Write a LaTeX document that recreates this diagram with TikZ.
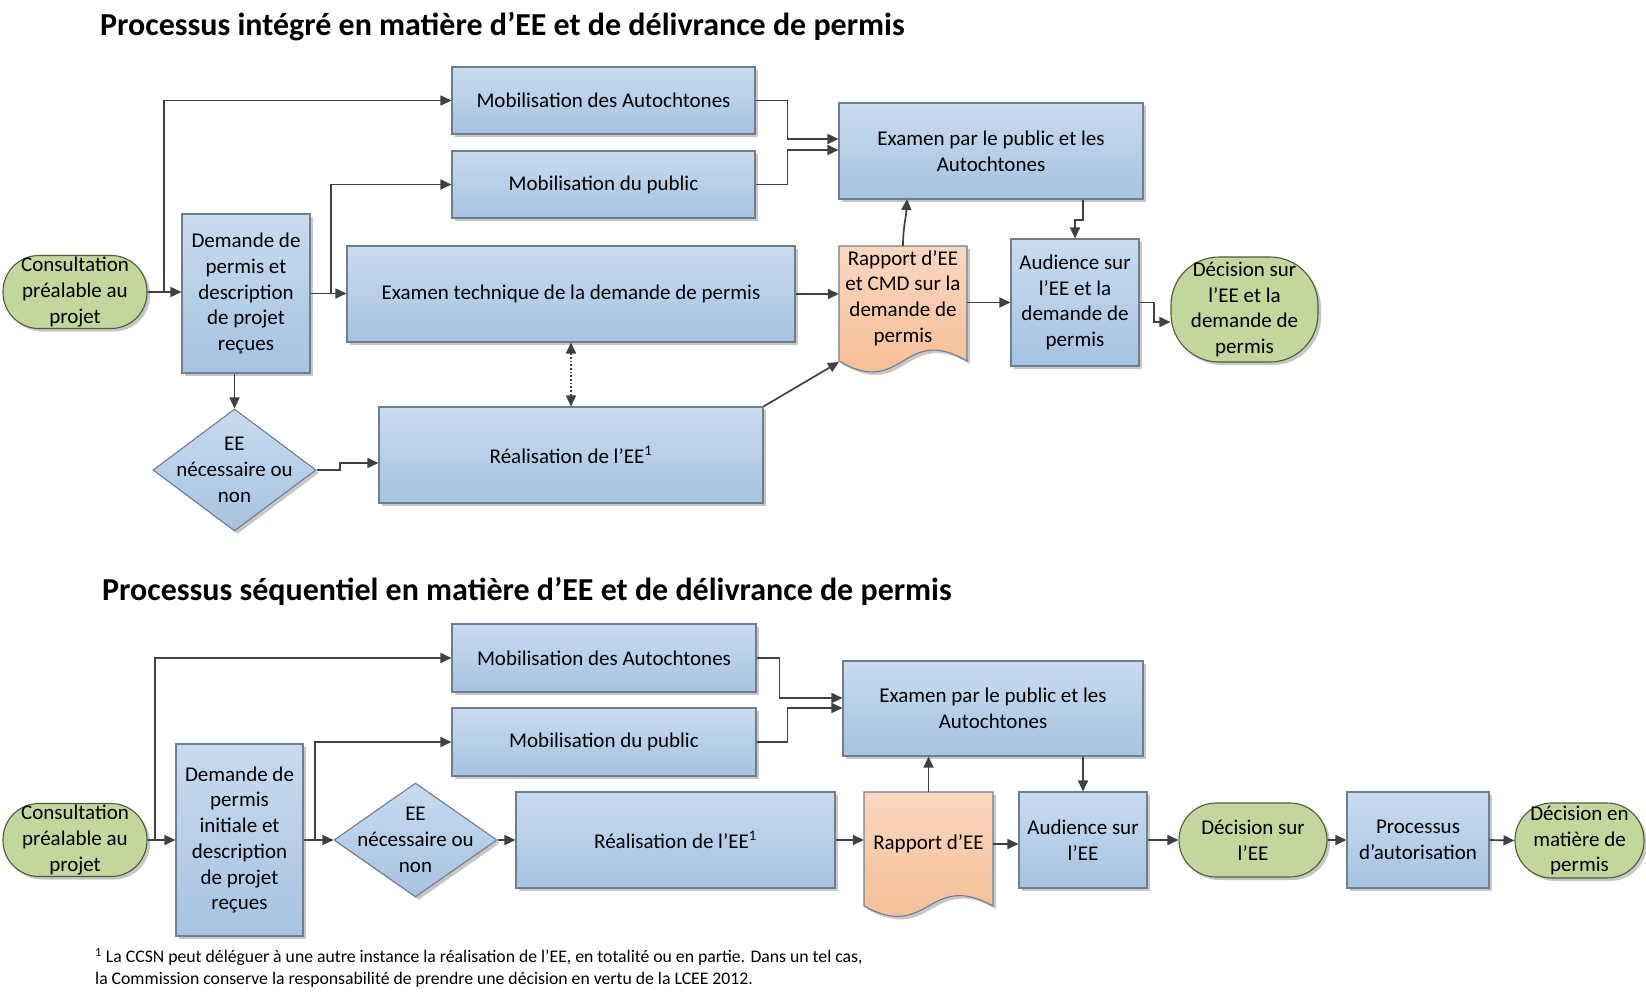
\documentclass[tikz,border=0pt]{standalone}
\usepackage{fontspec}
\setmainfont{Carlito}
\usetikzlibrary{shapes.geometric,arrows.meta,shadows}
\definecolor{boxtop}{HTML}{C8DBEF}
\definecolor{boxbot}{HTML}{A6C3E1}
\definecolor{boxline}{HTML}{6E7E8E}
\definecolor{greenfill}{HTML}{C3D69B}
\definecolor{greenline}{HTML}{4E5B38}
\definecolor{orangetop}{HTML}{FAD7BF}
\definecolor{orangebot}{HTML}{F5BA8E}
\definecolor{arrowcol}{HTML}{404040}
\tikzset{
  basetxt/.style={inner sep=0pt, align=center, text=black, font=\fontsize{21pt}{25.7pt}\selectfont},
  shad/.style={drop shadow={shadow xshift=3pt, shadow yshift=-3pt, opacity=0.22, fill=black}},
  procbox/.style={basetxt, rectangle, draw=boxline, line width=1.1pt, top color=boxtop, bottom color=boxbot, shad},
  termnode/.style={basetxt, rectangle, draw=greenline, line width=1.1pt, fill=greenfill, shad},
  decnode/.style={diamond, inner sep=0pt, draw=boxline, line width=1.1pt, top color=boxtop, bottom color=boxbot, shad},
  docshape/.style={draw=boxline, line width=1.1pt, top color=orangetop, bottom color=orangebot, shad},
  conn/.style={draw=arrowcol, line width=1.7pt, -{Triangle[length=11pt,width=10pt]}},
  dconn/.style={draw=arrowcol, line width=1.7pt, dotted, {Triangle[length=11pt,width=10pt]}-{Triangle[length=11pt,width=10pt]}},
  titletxt/.style={inner sep=0pt, anchor=base west, font=\fontsize{32pt}{38pt}\selectfont\bfseries},
}
\begin{document}
\begin{tikzpicture}[x=1pt,y=-1pt]
\useasboundingbox (0,0) rectangle (1646,1003);

% ================= TOP =================
\node[titletxt] (t1) at (100,36) {Processus intégré en matière d’EE et de délivrance de permis};

\node[termnode, minimum width=144pt, minimum height=73pt, rounded corners=36pt] (c1) at (75,292) {Consultation\\préalable au\\projet};
\node[procbox, minimum width=128pt, minimum height=159pt] (d1) at (246,293.5) {Demande de\\permis et\\description\\de projet\\reçues};
\node[procbox, minimum width=303pt, minimum height=67pt] (ma1) at (603.5,100.5) {Mobilisation des Autochtones};
\node[procbox, minimum width=303pt, minimum height=67pt] (mp1) at (603.5,184.5) {Mobilisation du public};
\node[procbox, minimum width=448pt, minimum height=96pt] (et1) at (571,294) {Examen technique de la demande de permis};
\node[procbox, minimum width=384pt, minimum height=96pt] (r1) at (571,455) {Réalisation de l’EE\textsuperscript{1}};
\node[decnode, minimum width=163pt, minimum height=122pt] (dia1) at (234.5,470) {};
\node[basetxt] (dia1t) at (dia1) {EE\\nécessaire ou\\non};
\node[procbox, minimum width=304pt, minimum height=96pt] (ep1) at (991,151) {Examen par le public et les\\Autochtones};
\path[docshape] (839,246) -- (967,246) -- (967,361) .. controls (903,323) and (903,399) .. (839,361) -- cycle;
\node[basetxt, minimum width=128pt, minimum height=104pt] (rap1) at (903,298) {Rapport d’EE\\et CMD sur la\\demande de\\permis};
\node[procbox, minimum width=128pt, minimum height=127pt] (au1) at (1075,302.5) {Audience sur\\l’EE et la\\demande de\\permis};
\node[termnode, minimum width=147pt, minimum height=105pt, rounded corners=48pt] (dec1) at (1244.5,309.5) {Décision sur\\l’EE et la\\demande de\\permis};

\coordinate (j1) at (164,292);
\coordinate (j2) at (331,294);
\coordinate (j5) at (340,463);
\coordinate (rap1in) at (839,362);
\coordinate (rapep) at (907,199);
\coordinate (k2) at (1083,220);
\coordinate (k1) at (1154,322);

\draw[conn] (c1.east) -- (c1.east -| d1.west);
\draw[conn] (j1) |- (ma1.west);
\draw[conn] (d1.east) -- (d1.east -| et1.west);
\draw[conn] (j2) |- (mp1.west);
\draw[conn] (dia1.north |- d1.south) -- (dia1.north);
\draw[conn] (dia1.east) -| (j5) -- (j5 -| r1.west);
\draw[dconn] (et1.south) -- (r1.north);
\draw[conn] (r1.north east) -- (rap1in);
\draw[conn] (et1.east) -- (et1.east -| rap1.west);
\draw[conn] (ma1.east) -- ++(32,0) |- ([yshift=12pt]ep1.west);
\draw[conn] (mp1.east) -- ++(32,0) |- ([yshift=1pt]ep1.west);
\draw[conn] (rap1.north) .. controls (903,228) and (906,218) .. (rapep);
\draw[conn] (rap1.east |- au1.west) -- (au1.west);
\draw[conn] (ep1.south -| k2) -- (k2) -| (au1.north);
\draw[conn] (au1.east) -| (k1) -- (k1 -| dec1.west);

% ================= BOTTOM =================
\node[titletxt] (t2) at (102,600) {Processus séquentiel en matière d’EE et de délivrance de permis};

\node[termnode, minimum width=144pt, minimum height=73pt, rounded corners=36pt] (c2) at (75,840) {Consultation\\préalable au\\projet};
\node[procbox, minimum width=127pt, minimum height=192pt] (d2) at (239.5,840) {Demande de\\permis\\initiale et\\description\\de projet\\reçues};
\node[procbox, minimum width=304pt, minimum height=68pt] (ma2) at (604,658) {Mobilisation des Autochtones};
\node[procbox, minimum width=304pt, minimum height=68pt] (mp2) at (604,742) {Mobilisation du public};
\node[decnode, minimum width=163pt, minimum height=114pt] (dia2) at (415.5,840) {};
\node[basetxt] (dia2t) at (dia2) {EE\\nécessaire ou\\non};
\node[procbox, minimum width=319pt, minimum height=96pt] (r2) at (675.5,840) {Réalisation de l’EE\textsuperscript{1}};
\node[procbox, minimum width=300pt, minimum height=95pt] (ep2) at (993,708.5) {Examen par le public et les\\Autochtones};
\path[docshape] (864,792) -- (993,792) -- (993,906) .. controls (928.5,870) and (928.5,942) .. (864,906) -- cycle;
\node[basetxt, minimum width=129pt, minimum height=104pt] (rap2) at (928.5,844) {Rapport d’EE};
\node[procbox, minimum width=128pt, minimum height=96pt] (au2) at (1083,840) {Audience sur\\l’EE};
\node[termnode, minimum width=148pt, minimum height=74pt, rounded corners=37pt] (dec2) at (1253,840) {Décision sur\\l’EE};
\node[procbox, minimum width=142pt, minimum height=96pt] (pa2) at (1418,840) {Processus\\d’autorisation};
\node[termnode, minimum width=129pt, minimum height=75pt, rounded corners=37pt] (dm2) at (1579.5,840.5) {Décision en\\matière de\\permis};

\coordinate (j3) at (155,840);
\coordinate (j4) at (315,840);

\draw[conn] (c2.east) -- (c2.east -| d2.west);
\draw[conn] (j3) |- (ma2.west);
\draw[conn] (d2.east) -- (dia2.west);
\draw[conn] (j4) |- (mp2.west);
\draw[conn] (dia2.east) -- (r2.west);
\draw[conn] (ma2.east) -- ++(23,0) |- ([yshift=10.5pt]ep2.west);
\draw[conn] (mp2.east) -- ++(31,0) |- ([yshift=0.5pt]ep2.west);
\draw[conn] (r2.east) -- (r2.east -| rap2.west);
\draw[conn] (rap2.north) -- (rap2.north |- ep2.south);
\draw[conn] (rap2.east) -- (rap2.east -| au2.west);
\draw[conn] (ep2.south -| au2.north) -- (au2.north);
\draw[conn] (au2.east) -- (dec2.west);
\draw[conn] (dec2.east) -- (pa2.west);
\draw[conn] (pa2.east) -- (dm2.west);

% ================= FOOTNOTE =================
\node[inner sep=0pt, anchor=base west, align=left, font=\fontsize{17.7pt}{21.5pt}\selectfont] (fn) at (95,984) {\textsuperscript{1} La CCSN peut déléguer à une autre instance la réalisation de l’EE, en totalité ou en partie. Dans un tel cas,\\la Commission conserve la responsabilité de prendre une décision en vertu de la LCEE 2012.};
\end{tikzpicture}
\end{document}
